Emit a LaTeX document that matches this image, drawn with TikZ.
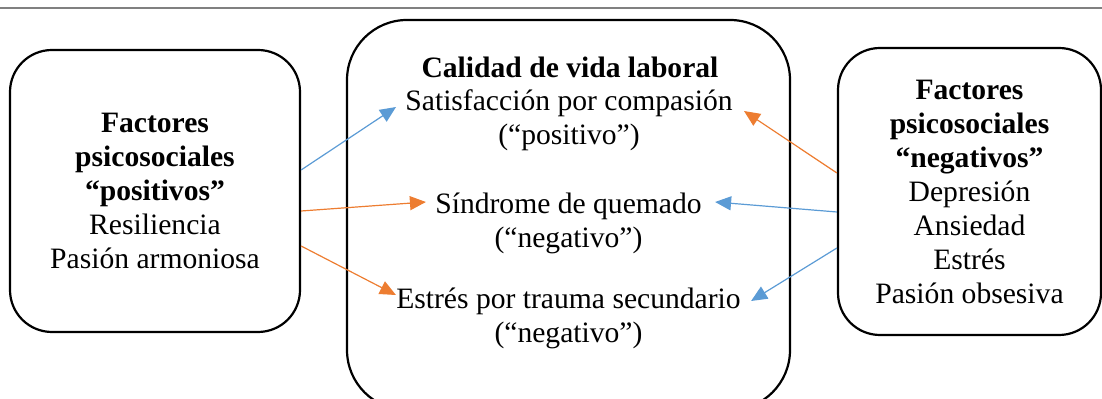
\documentclass[tikz,border=0pt]{standalone}
\usepackage{fontspec}
\setmainfont{Liberation Serif}
\usetikzlibrary{arrows.meta}
\definecolor{linkblue}{HTML}{5B9BD5}
\definecolor{linkorange}{HTML}{ED7D31}
\definecolor{rulegray}{HTML}{808080}

\begin{document}
\begin{tikzpicture}[x=0.5pt,y=-0.5pt,
    every node/.style={font=\fontsize{14.8}{17}\selectfont},
    roundbox/.style={draw, line width=1.1pt, rounded corners=21pt, align=center},
    item/.style={inner sep=0pt, align=center},
    link/.style={line width=0.6pt, -{Triangle[length=8pt,width=7pt]}}]
\clip (0,0) rectangle (1102,399);
\draw[rulegray, line width=1pt] (0,8.5) -- (1102,8.5);

% three boxes
\node[roundbox, minimum width=145pt, minimum height=141pt] (pos) at (155,191)
    {\textbf{Factores}\\\textbf{psicosociales}\\\textbf{“positivos”}\\Resiliencia\\Pasión armoniosa};
\node[roundbox, rounded corners=30pt, minimum width=221.5pt, minimum height=195pt] (cvl) at (568.5,215) {};
\node[roundbox, minimum width=131.5pt, minimum height=143.5pt] (neg) at (969.5,191.5)
    {\textbf{Factores}\\\textbf{psicosociales}\\\textbf{“negativos”}\\Depresión\\Ansiedad\\Estrés\\Pasión obsesiva};

% items of the middle box
\node[item] (tit) at (570,67) {\textbf{Calidad de vida laboral}};
\node[item] (sat) at (569,120) {Satisfacción por compasión\\(“positivo”)};
\node[item] (sq) at (568.5,223.5) {Síndrome de quemado\\(“negativo”)};
\node[item] (st) at (568.5,318.5) {Estrés por trauma secundario\\(“negativo”)};

% arrows
\draw[link, linkblue] ([yshift=10.5pt]pos.east) -- ([xshift=-4.5pt,yshift=6.5pt]sat.west);
\draw[link, linkorange] ([yshift=-10pt]pos.east) -- ([xshift=-4.5pt,yshift=10.75pt]sq.west);
\draw[link, linkorange] ([yshift=-27.5pt]pos.east) -- ([yshift=11.75pt]st.west);
\draw[link, linkorange] ([yshift=9.25pt]neg.west) -- ([xshift=5.5pt,yshift=4.5pt]sat.east);
\draw[link, linkblue] ([yshift=-10.25pt]neg.west) -- ([xshift=6.5pt,yshift=10.75pt]sq.east);
\draw[link, linkblue] ([yshift=-28.25pt]neg.west) -- ([xshift=5pt,yshift=8.75pt]st.east);
\end{tikzpicture}
\end{document}
